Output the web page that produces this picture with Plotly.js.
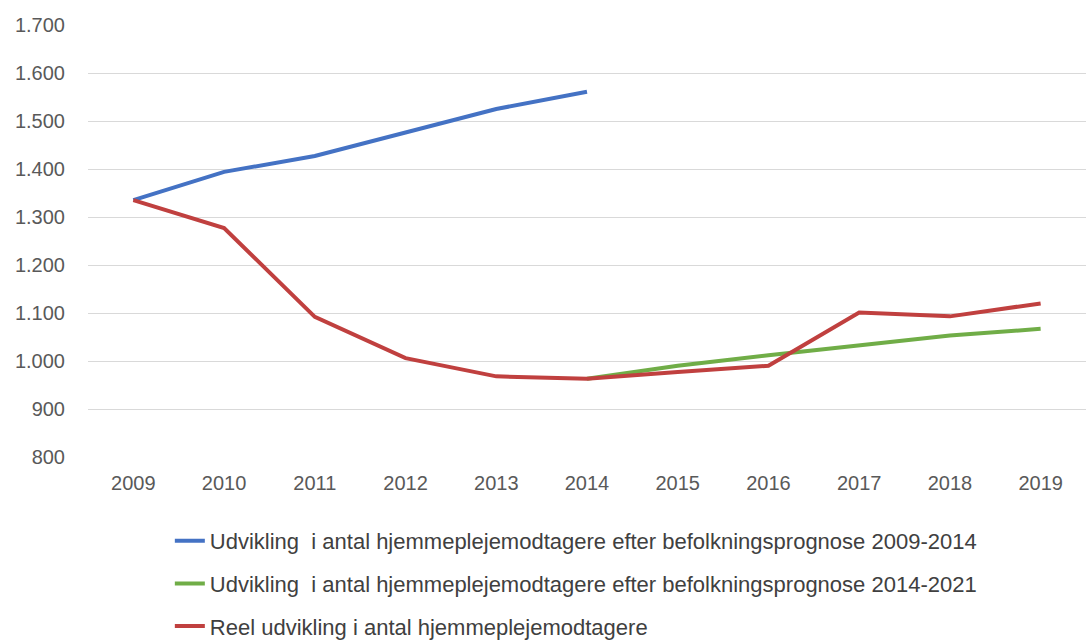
<!DOCTYPE html>
<html>
<head>
<meta charset="utf-8">
<script src="https://cdn.plot.ly/plotly-3.0.1.min.js"></script>
<style>html,body{margin:0;padding:0;background:#fff;}#chart{width:1086px;height:641px;}</style>
</head>
<body>
<div id="chart"></div>
<script>
const years = ['2009','2010','2011','2012','2013','2014','2015','2016','2017','2018','2019'];
const prognose2009 = [1335, 1394, 1427, 1476, 1525, 1561, null, null, null, null, null];
const prognose2014 = [null, null, null, null, null, 963, 990, 1012, 1033, 1053, 1067];
const reel = [1335, 1277, 1092, 1006, 968, 963, 977, 990, 1101, 1093, 1120];
const names = [
  'Udvikling  i antal hjemmeplejemodtagere efter befolkningsprognose 2009-2014',
  'Udvikling  i antal hjemmeplejemodtagere efter befolkningsprognose 2014-2021',
  'Reel udvikling i antal hjemmeplejemodtagere'
];
const colors = ['#4472C4', '#70AD47', '#C0403F'];

const series = [prognose2009, prognose2014, reel];
const traces = series.map((s, i) => ({
  x: years, y: s, name: names[i], type: 'scatter', mode: 'lines',
  line: {color: colors[i], width: 4}, legendgroup: 'g' + i,
  connectgaps: false, hoverinfo: 'skip'
}));

const layout = {
  width: 1086, height: 641,
  margin: {l: 88, r: 0, t: 25, b: 184, autoexpand: false},
  paper_bgcolor: '#fff', plot_bgcolor: '#fff',
  separators: ',.',
  font: {family: 'Liberation Sans, Arial, sans-serif', size: 20, color: '#595959'},
  showlegend: true,
  legend: {
    orientation: 'v', x: 0.082, xanchor: 'left', y: -0.146, yanchor: 'top',
    font: {size: 22, color: '#404040'}, tracegroupgap: 11, traceorder: 'grouped'
  },
  xaxis: {
    type: 'category', range: [-0.5, 10.5], showgrid: false, zeroline: false, showline: false,
    ticks: '', ticklabelstandoff: 12, fixedrange: true
  },
  yaxis: {
    range: [800, 1700], dtick: 100, tickformat: ',d',
    showgrid: true, gridcolor: '#d9d9d9', gridwidth: 1,
    zeroline: false, showline: false, ticks: '', ticklabelstandoff: 22
  }
};

Plotly.newPlot('chart', traces, layout, {staticPlot: true});
</script>
</body>
</html>
